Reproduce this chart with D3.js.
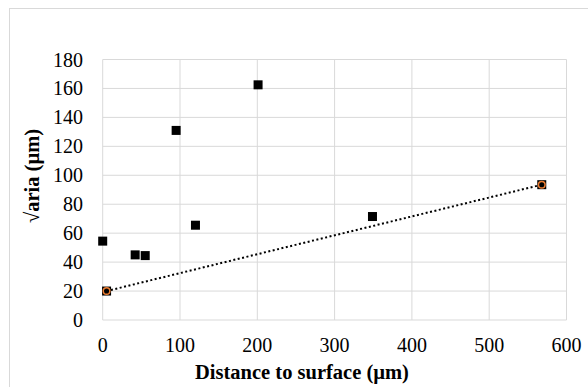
<html>
<head>
  <script src="https://cdn.jsdelivr.net/npm/d3@7"></script>
  <style>
    body { margin:0; background:#fff; }
  </style>
</head>
<body>
<div id="chart"></div>
<script>
  // all measurements (black squares)
  var distAll = [0, 42, 55, 95, 120, 201, 349, 5, 568]
  var rootAll = [54.5, 45, 44.5, 131, 65.5, 162.5, 71.5, 20, 93.5]
  // highlighted pair (orange circles) with linear trendline
  var distSel = [5, 568]
  var rootSel = [20, 93.5]
  var xTicks = [0, 100, 200, 300, 400, 500, 600]
  var yTicks = [0, 20, 40, 60, 80, 100, 120, 140, 160, 180]

  var W = 588, H = 387
  var svg = d3.select("#chart").append("svg").attr("width", W).attr("height", H)
     .attr("font-family", "'Liberation Serif', 'Times New Roman', 'DejaVu Serif', serif")

  // chart area frame
  svg.append("rect").attr("x", 9.5).attr("y", 8.5).attr("width", 600).attr("height", 400)
     .style("fill", "none").style("stroke", "#d9d9d9")

  var x = d3.scaleLinear().domain([0, 600]).range([102.7, 566.5])
  var y = d3.scaleLinear().domain([0, 180]).range([320, 59.5])

  // gridlines
  svg.append("g").selectAll("line").data(yTicks).enter().append("line")
     .attr("x1", x(0)).attr("x2", x(600)).attr("y1", d => y(d)).attr("y2", d => y(d))
     .style("stroke", "#d9d9d9").style("stroke-width", 1)
  svg.append("g").selectAll("line").data(xTicks).enter().append("line")
     .attr("y1", y(0)).attr("y2", y(180)).attr("x1", d => x(d)).attr("x2", d => x(d))
     .style("stroke", "#d9d9d9").style("stroke-width", 1)

  // tick labels
  svg.append("g").selectAll("text").data(yTicks).enter().append("text")
     .attr("x", 83).attr("y", d => y(d) + 7).attr("text-anchor", "end")
     .style("font-size", "20px").text(d => d)
  svg.append("g").selectAll("text").data(xTicks).enter().append("text")
     .attr("x", d => x(d)).attr("y", 352).attr("text-anchor", "middle")
     .style("font-size", "20px").text(d => d)

  // axis titles
  svg.append("text").attr("x", 302).attr("y", 379).attr("text-anchor", "middle")
     .style("font-size", "20.5px").style("font-weight", "bold").text("Distance to surface (µm)")
  svg.append("text").attr("transform", "translate(39,176) rotate(-90)").attr("text-anchor", "middle")
     .style("font-size", "20.5px").style("font-weight", "bold").text("√aria (µm)")

  // trendline (least squares on highlighted series)
  var mx = d3.mean(distSel), my = d3.mean(rootSel)
  var slope = d3.sum(distSel, (d, i) => (d - mx) * (rootSel[i] - my)) / d3.sum(distSel, d => (d - mx) * (d - mx))
  var icpt = my - slope * mx
  var x0 = d3.min(distSel), x1 = d3.max(distSel)
  svg.append("line")
     .attr("x1", x(x0)).attr("y1", y(icpt + slope * x0))
     .attr("x2", x(x1)).attr("y2", y(icpt + slope * x1))
     .style("stroke", "#000").style("stroke-width", 2).style("stroke-dasharray", "2,2.5")

  // squares
  svg.append("g").selectAll("rect").data(distAll).enter().append("rect")
     .attr("x", d => x(d) - 4.5).attr("y", (d, i) => y(rootAll[i]) - 4.5)
     .attr("width", 9).attr("height", 9).style("fill", "#000")

  // orange circles
  svg.append("g").selectAll("circle").data(distSel).enter().append("circle")
     .attr("cx", d => x(d)).attr("cy", (d, i) => y(rootSel[i])).attr("r", 3.3)
     .style("fill", "none").style("stroke", "#ed7d31").style("stroke-width", 1.5)
</script>
</body>
</html>
